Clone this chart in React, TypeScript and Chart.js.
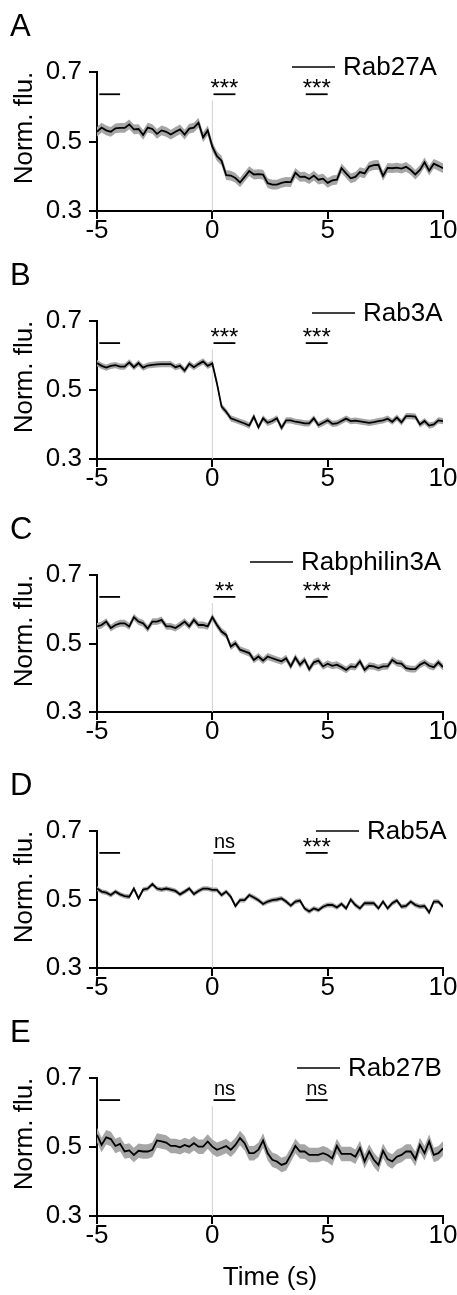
import React, { useEffect, useRef } from "react";
import { Chart, registerables } from "chart.js";

Chart.register(...registerables);

const FONT = '"Liberation Sans", Arial, Helvetica, sans-serif';

// ---------- data ----------
const TIME = [
  -5, -4.8, -4.6, -4.4, -4.2, -4, -3.8, -3.6, -3.4, -3.2, -3, -2.8, -2.6, -2.4, -2.2, -2, -1.8, -1.6, -1.4, -1.2, -1, -0.8, -0.6, -0.4, -0.2,
  0, 0.2, 0.4, 0.6, 0.8, 1, 1.2, 1.4, 1.6, 1.8, 2, 2.2, 2.4, 2.6, 2.8, 3, 3.2, 3.4, 3.6, 3.8, 4, 4.2, 4.4, 4.6, 4.8,
  5, 5.2, 5.4, 5.6, 5.8, 6, 6.2, 6.4, 6.6, 6.8, 7, 7.2, 7.4, 7.6, 7.8, 8, 8.2, 8.4, 8.6, 8.8, 9, 9.2, 9.4, 9.6, 9.8, 10,
];

const RAB27A = [
  0.528, 0.540, 0.532, 0.528, 0.538, 0.539, 0.539, 0.549, 0.535, 0.536, 0.519, 0.540, 0.536, 0.522, 0.532, 0.528, 0.520, 0.528, 0.535, 0.520, 0.537, 0.540, 0.554, 0.512, 0.532,
  0.485, 0.458, 0.445, 0.403, 0.402, 0.395, 0.382, 0.398, 0.415, 0.405, 0.406, 0.405, 0.380, 0.376, 0.376, 0.381, 0.384, 0.383, 0.410, 0.398, 0.399, 0.392, 0.402, 0.390, 0.393,
  0.381, 0.388, 0.390, 0.423, 0.408, 0.394, 0.398, 0.412, 0.408, 0.428, 0.432, 0.433, 0.401, 0.424, 0.423, 0.425, 0.422, 0.427, 0.418, 0.405, 0.418, 0.440, 0.416, 0.436, 0.430, 0.423,
];
const RAB3A = [
  0.578, 0.570, 0.565, 0.570, 0.572, 0.568, 0.568, 0.580, 0.566, 0.578, 0.565, 0.571, 0.573, 0.574, 0.575, 0.575, 0.575, 0.566, 0.570, 0.556, 0.576, 0.566, 0.575, 0.583, 0.570,
  0.577, 0.519, 0.452, 0.437, 0.418, 0.413, 0.408, 0.403, 0.397, 0.423, 0.392, 0.418, 0.405, 0.410, 0.418, 0.390, 0.412, 0.412, 0.408, 0.406, 0.403, 0.403, 0.418, 0.398, 0.405,
  0.412, 0.402, 0.403, 0.410, 0.417, 0.410, 0.411, 0.409, 0.407, 0.405, 0.407, 0.410, 0.412, 0.417, 0.408, 0.420, 0.406, 0.424, 0.424, 0.423, 0.400, 0.410, 0.397, 0.400, 0.412, 0.410,
];
const RABPHILIN3A = [
  0.550, 0.554, 0.564, 0.545, 0.554, 0.559, 0.559, 0.550, 0.577, 0.564, 0.559, 0.543, 0.564, 0.564, 0.569, 0.550, 0.550, 0.545, 0.554, 0.564, 0.550, 0.569, 0.554, 0.554, 0.550,
  0.577, 0.554, 0.535, 0.525, 0.491, 0.501, 0.482, 0.477, 0.472, 0.452, 0.462, 0.450, 0.462, 0.457, 0.452, 0.448, 0.457, 0.433, 0.459, 0.438, 0.452, 0.425, 0.445, 0.450, 0.433,
  0.441, 0.435, 0.438, 0.431, 0.423, 0.433, 0.431, 0.448, 0.423, 0.435, 0.433, 0.428, 0.433, 0.433, 0.452, 0.443, 0.441, 0.428, 0.425, 0.425, 0.438, 0.445, 0.435, 0.431, 0.445, 0.431,
];
const RAB5A = [
  0.532, 0.523, 0.520, 0.513, 0.523, 0.515, 0.510, 0.508, 0.532, 0.503, 0.529, 0.532, 0.545, 0.532, 0.529, 0.532, 0.529, 0.525, 0.515, 0.523, 0.532, 0.516, 0.525, 0.532, 0.532,
  0.528, 0.528, 0.513, 0.523, 0.508, 0.481, 0.498, 0.498, 0.513, 0.506, 0.498, 0.487, 0.494, 0.498, 0.500, 0.503, 0.494, 0.482, 0.494, 0.497, 0.474, 0.465, 0.474, 0.469, 0.479,
  0.484, 0.484, 0.477, 0.487, 0.474, 0.500, 0.484, 0.474, 0.489, 0.489, 0.489, 0.474, 0.494, 0.474, 0.489, 0.497, 0.479, 0.481, 0.494, 0.484, 0.479, 0.481, 0.462, 0.494, 0.494, 0.479,
];
const RAB27B = [
  0.535, 0.506, 0.528, 0.523, 0.503, 0.509, 0.487, 0.490, 0.477, 0.489, 0.487, 0.487, 0.492, 0.519, 0.516, 0.513, 0.503, 0.503, 0.499, 0.506, 0.501, 0.511, 0.501, 0.501, 0.516,
  0.501, 0.492, 0.497, 0.503, 0.492, 0.506, 0.526, 0.511, 0.482, 0.482, 0.492, 0.519, 0.482, 0.463, 0.458, 0.448, 0.453, 0.477, 0.503, 0.487, 0.487, 0.477, 0.477, 0.477, 0.482,
  0.477, 0.467, 0.503, 0.480, 0.480, 0.480, 0.472, 0.497, 0.458, 0.487, 0.463, 0.448, 0.489, 0.465, 0.458, 0.472, 0.477, 0.487, 0.487, 0.465, 0.506, 0.482, 0.516, 0.477, 0.482, 0.496,
];

// SEM half-widths of the shaded bands
const SEM = [0.014, 0.009, 0.010, 0.007, 0.021];
const SERIES_NAMES = ["Rab27A", "Rab3A", "Rabphilin3A", "Rab5A", "Rab27B"];
const PANEL_LETTERS = ["A", "B", "C", "D", "E"];
const SIG_LABELS = [
  ["***", "***"],
  ["***", "***"],
  ["**", "***"],
  ["ns", "***"],
  ["ns", "ns"],
];
// windows: baseline, early, late (seconds)
const BASELINE_WIN = [-4.9, -4.0];
const TEST_WINS = [
  [0.05, 1.0],
  [4.05, 5.0],
];
const SIG_Y = 0.636;
const ZERO_LINE = [0.3, 0.618];
const X_TICKS = [-5, 0, 5, 10];
const Y_TICKS = [0.3, 0.5, 0.7];
const Y_TITLE = "Norm. flu.";
const X_TITLE = "Time (s)";

const SERIES = [RAB27A, RAB3A, RABPHILIN3A, RAB5A, RAB27B];

// ---------- layout ----------
const PLOT_TOP = [72, 321, 575, 831, 1078];
const PLOT_H = [139, 138, 137, 137, 138];
const LEG_X = [292, 312, 250, 316, 297];
const LEG_DY = [-5, -8, -13, 0, -10];
const PAD_TOP = 72;

function PanelChart({ idx }: { idx: number }) {
  const ref = useRef<HTMLCanvasElement | null>(null);
  const isLast = idx === SERIES.length - 1;
  const canvasH = isLast ? 1295 - (PLOT_TOP[idx] - PAD_TOP) : 260;
  const xAxisH = isLast ? 79 : 40;
  const padBottom = canvasH - PAD_TOP - PLOT_H[idx] - xAxisH;

  useEffect(() => {
    if (!ref.current) return;
    const mean = SERIES[idx];
    const sem = SEM[idx];
    const pts = (arr: number[]) => TIME.map((t, i) => ({ x: t, y: arr[i] }));
    const upper = mean.map((v) => v + sem);
    const lower = mean.map((v) => v - sem);

    const segDs = (win: number[]) => ({
      data: [
        { x: win[0], y: SIG_Y },
        { x: win[1], y: SIG_Y },
      ],
      borderColor: "#000",
      borderWidth: 1.8,
      pointRadius: 0,
      fill: false,
      order: 0,
    });

    const annot = {
      id: "annot" + idx,
      afterDraw(chart: any) {
        const ctx = chart.ctx;
        const { top } = chart.chartArea;
        const xs = chart.scales.x;
        const ys = chart.scales.y;
        ctx.save();
        ctx.fillStyle = "#000";
        ctx.strokeStyle = "#000";
        // panel letter
        ctx.font = `31px ${FONT}`;
        ctx.textAlign = "left";
        ctx.textBaseline = "alphabetic";
        ctx.fillText(PANEL_LETTERS[idx], 10, top - 36);
        // y title
        ctx.save();
        ctx.translate(32, top + 56);
        ctx.rotate(-Math.PI / 2);
        ctx.font = `26px ${FONT}`;
        ctx.textAlign = "center";
        ctx.textBaseline = "alphabetic";
        ctx.fillText(Y_TITLE, 0, 0);
        ctx.restore();
        // legend
        const ly = top + LEG_DY[idx];
        ctx.lineWidth = 1.5;
        ctx.beginPath();
        ctx.moveTo(LEG_X[idx], ly);
        ctx.lineTo(LEG_X[idx] + 43, ly);
        ctx.stroke();
        ctx.font = `26px ${FONT}`;
        ctx.textAlign = "left";
        ctx.textBaseline = "middle";
        ctx.fillText(SERIES_NAMES[idx], LEG_X[idx] + 51, ly + 1);
        // significance labels
        const by = ys.getPixelForValue(SIG_Y);
        TEST_WINS.forEach((w, i) => {
          const cx = (xs.getPixelForValue(w[0]) + xs.getPixelForValue(w[1])) / 2;
          const lab = SIG_LABELS[idx][i];
          ctx.textAlign = "center";
          ctx.textBaseline = "alphabetic";
          if (lab === "ns") {
            ctx.font = `20px ${FONT}`;
            ctx.fillText(lab, cx, by - 5);
          } else {
            ctx.font = `24px ${FONT}`;
            ctx.fillText(lab, cx, by + 2);
          }
        });
        ctx.restore();
      },
    };

    const chart = new Chart(ref.current, {
      type: "line",
      data: {
        datasets: [
          {
            data: pts(mean),
            borderColor: "#000",
            borderWidth: 1.8,
            pointRadius: 0,
            fill: false,
            tension: 0,
            order: 0,
          },
          {
            data: pts(upper),
            borderColor: "rgba(0,0,0,0)",
            borderWidth: 0,
            pointRadius: 0,
            fill: "+1",
            backgroundColor: "#a6a6a6",
            order: 2,
          },
          {
            data: pts(lower),
            borderColor: "rgba(0,0,0,0)",
            borderWidth: 0,
            pointRadius: 0,
            fill: false,
            order: 2,
          },
          {
            data: [
              { x: 0, y: ZERO_LINE[0] },
              { x: 0, y: ZERO_LINE[1] },
            ],
            borderColor: "#d0d0d0",
            borderWidth: 1,
            pointRadius: 0,
            fill: false,
            order: 5,
          },
          segDs(BASELINE_WIN),
          segDs(TEST_WINS[0]),
          segDs(TEST_WINS[1]),
        ] as any,
      },
      options: {
        animation: false,
        responsive: false,
        maintainAspectRatio: false,
        devicePixelRatio: 1,
        events: [],
        layout: { padding: { top: PAD_TOP, left: 0, right: 14, bottom: padBottom } },
        plugins: { legend: { display: false }, tooltip: { enabled: false }, title: { display: false } },
        scales: {
          x: {
            type: "linear",
            min: -5,
            max: 10,
            afterBuildTicks: (s: any) => {
              s.ticks = X_TICKS.map((v) => ({ value: v }));
            },
            afterFit: (s: any) => {
              s.height = xAxisH;
            },
            ticks: {
              color: "#000",
              font: { family: FONT, size: 26 },
              padding: -4,
              maxRotation: 0,
              autoSkip: false,
              callback: (v: any) => String(v),
            },
            grid: { display: true, drawOnChartArea: false, drawTicks: true, tickLength: 8, color: "#000", lineWidth: 2 },
            border: { display: true, color: "#000", width: 2 },
            title: {
              display: isLast,
              text: X_TITLE,
              color: "#000",
              font: { family: FONT, size: 26 },
              padding: { top: 0, bottom: 2 },
            },
          },
          y: {
            type: "linear",
            min: 0.3,
            max: 0.7,
            afterBuildTicks: (s: any) => {
              s.ticks = Y_TICKS.map((v) => ({ value: v }));
            },
            afterFit: (s: any) => {
              s.width = 97;
            },
            ticks: {
              color: "#000",
              font: { family: FONT, size: 26 },
              padding: 7,
              autoSkip: false,
              callback: (v: any) => Number(v).toFixed(1),
            },
            grid: { display: true, drawOnChartArea: false, drawTicks: true, tickLength: 8, color: "#000", lineWidth: 2 },
            border: { display: true, color: "#000", width: 2 },
          },
        },
      } as any,
      plugins: [annot],
    });
    return () => chart.destroy();
  }, [idx]);

  return (
    <canvas
      ref={ref}
      width={457}
      height={canvasH}
      style={{ position: "absolute", left: 0, top: PLOT_TOP[idx] - PAD_TOP, width: 457, height: canvasH, display: "block" }}
    />
  );
}

export default function App() {
  return (
    <div style={{ position: "absolute", left: 0, top: 0, width: 457, height: 1295, background: "#fff", overflow: "hidden" }}>
      {SERIES.map((_, i) => (
        <PanelChart key={i} idx={i} />
      ))}
    </div>
  );
}
